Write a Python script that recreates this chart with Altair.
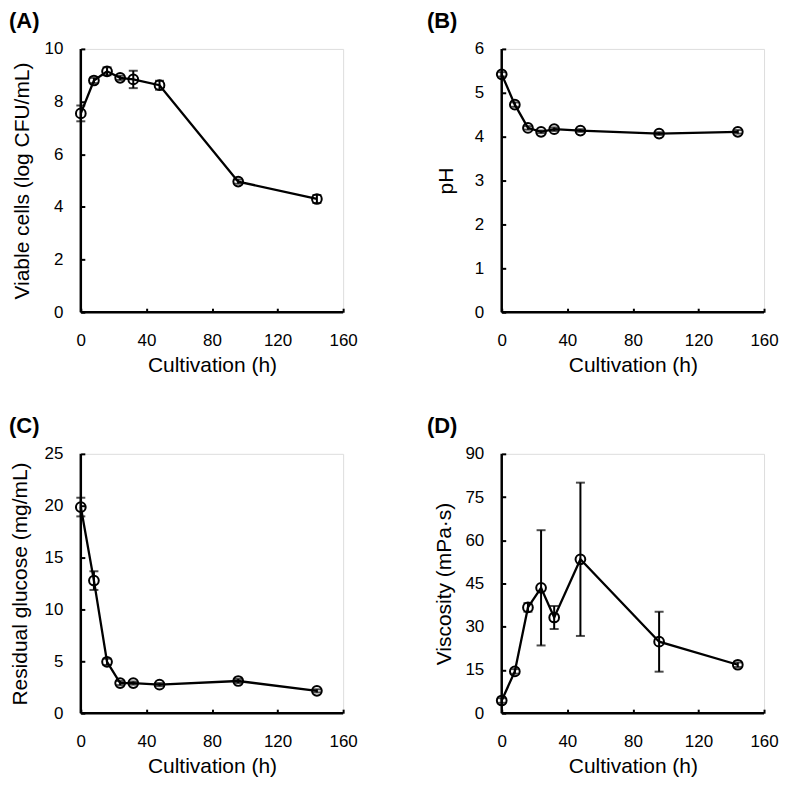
import altair as alt
import pandas as pd

hours = [0, 8, 16, 24, 32, 48, 96, 144]

viable = [7.55, 8.80, 9.15, 8.90, 8.84, 8.62, 4.96, 4.30]
viable_err = [0.30, 0.10, 0.15, 0.08, 0.33, 0.17, 0.08, 0.15]

ph = [5.42, 4.73, 4.20, 4.11, 4.17, 4.14, 4.07, 4.11]
ph_err = [0.05, 0.05, 0.04, 0.03, 0.04, 0.03, 0.03, 0.04]

glucose = [19.87, 12.78, 4.95, 2.90, 2.90, 2.75, 3.10, 2.15]
glucose_err = [0.90, 0.90, 0.30, 0.20, 0.15, 0.15, 0.20, 0.15]

viscosity = [4.4, 14.5, 36.7, 43.5, 33.2, 53.4, 24.8, 16.8]
viscosity_err = [0.8, 0.8, 1.5, 20.0, 4.0, 26.6, 10.4, 0.8]

FONT = "Liberation Sans"
W = 263


def panel(letter, vals, errs, ytitle, ymax, ystep, lstep, height, tpad, tdx):
    df = pd.DataFrame({
        "t": hours,
        "v": vals,
        "lo": [a - b for a, b in zip(vals, errs)],
        "hi": [a + b for a, b in zip(vals, errs)],
    })
    n = int(round(ymax / ystep))
    yticks = [ystep * i for i in range(n + 1)]
    xscale = alt.Scale(domain=[0, 160], nice=False, zero=False)
    yscale = alt.Scale(domain=[0, ymax], nice=False)
    xaxis = alt.Axis(
        title="Cultivation (h)", values=list(range(0, 161, 20)),
        labelExpr="datum.value % 40 == 0 ? datum.label : ''",
        offset=-4, domain=False, tickSize=4, tickWidth=2, tickColor="black",
        labelFlush=False, labelOverlap=False, labelPadding=20, labelFontSize=17,
        labelColor="black", titleFontSize=21, titleFontWeight="normal",
        titleColor="black", titlePadding=6, grid=False,
    )
    yaxis = alt.Axis(
        title=ytitle, values=yticks,
        labelExpr=f"datum.value % {lstep} == 0 ? format(datum.value, 'd') : ''",
        offset=-4, domain=False, tickSize=4, tickWidth=2, tickColor="black",
        labelOverlap=False, labelPadding=18, labelFontSize=17, labelColor="black",
        titleFontSize=21, titleFontWeight="normal", titleColor="black",
        titlePadding=tpad, grid=False,
    )
    base = alt.Chart(df)
    x = alt.X("t:Q", scale=xscale, axis=xaxis)
    line = base.mark_line(color="black", strokeWidth=2.3).encode(
        x=x, y=alt.Y("v:Q", scale=yscale, axis=yaxis))
    bars = base.mark_rule(color="black", strokeWidth=2).encode(
        x="t:Q", y="lo:Q", y2="hi:Q")
    cap_lo = base.mark_tick(color="black", orient="horizontal", size=9,
                            thickness=2).encode(x="t:Q", y="lo:Q")
    cap_hi = base.mark_tick(color="black", orient="horizontal", size=9,
                            thickness=2).encode(x="t:Q", y="hi:Q")
    pts = base.mark_point(shape="circle", filled=False, color="black",
                          size=95, strokeWidth=2, opacity=1).encode(
        x="t:Q", y="v:Q")
    one = alt.Chart(pd.DataFrame({"k": [0]}))
    ydom = one.mark_rule(color="black", strokeWidth=2.5).encode(
        x=alt.value(0), y=alt.value(0), y2=alt.value(height))
    xdom = one.mark_rule(color="black", strokeWidth=2.5).encode(
        x=alt.value(0), x2=alt.value(W), y=alt.value(height))
    return alt.layer(line, bars, cap_lo, cap_hi, pts, ydom, xdom).properties(
        width=W, height=height,
        title=alt.TitleParams(text=letter, anchor="start", frame="group",
                              dx=tdx, offset=7, fontSize=22,
                              fontWeight="bold", font=FONT, color="black"),
    )


a = panel("(A)", viable, viable_err, "Viable cells (log CFU/mL)", 10, 1, 2, 264, 12, -72)
b = panel("(B)", ph, ph_err, "pH", 6, 0.5, 1, 264, 18, -75)
c = panel("(C)", glucose, glucose_err, "Residual glucose  (mg/mL)", 25, 2.5, 5, 260, 14, -72)
d = panel("(D)", viscosity, viscosity_err, "Viscosity (mPa\u00b7s)", 90, 7.5, 15, 260, 10, -75)

chart = alt.concat(a, b, c, d, columns=2, spacing={"row": 142, "column": 159},
                   bounds="flush").properties(
    padding={"left": 0, "top": 0, "right": 0, "bottom": 0},
    background="white",
).configure_view(stroke=None).configure(font=FONT)

chart.save("out.html", embed_options={"renderer": "svg", "actions": False})
